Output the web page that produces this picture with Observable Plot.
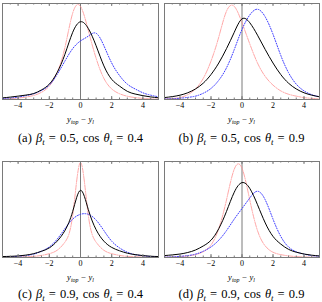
<!DOCTYPE html>
<html><head><meta charset="utf-8">
<script src="https://cdn.jsdelivr.net/npm/d3@7"></script>
<script src="https://cdn.jsdelivr.net/npm/@observablehq/plot@0.6"></script>
<style>
body{margin:0;background:#fff;}
#fig{position:relative;width:322px;height:302px;overflow:hidden;font-family:'Liberation Serif','DejaVu Serif',serif;color:#000;}
.panel{position:absolute;}
.xlab{position:absolute;width:161px;text-align:center;font-size:8.5px;font-style:italic;line-height:1;white-space:nowrap;}
.cap{position:absolute;width:161px;text-align:center;font-size:12.5px;line-height:1;white-space:nowrap;word-spacing:1px;}
sub{font-size:0.7em;vertical-align:-0.3em;line-height:0;}
</style></head>
<body><div id="fig"></div>
<script>
// shared x grid (y_top - y_l)
const xs = [-5,-4.5,-4,-3.5,-3,-2.5,-2,-1.5,-1,-0.5,0,0.5,1,1.5,2,2.5,3,3.5,4,4.5,5];
const majorTicks = [-4,-2,0,2,4];
const tickLabels = ["\u22124","\u22122","0","2","4"];
const minorTicks = [-5,-4.5,-4,-3.5,-3,-2.5,-2,-1.5,-1,-0.5,0,0.5,1,1.5,2,2.5,3,3.5,4,4.5,5];

// panel (a): beta=0.5, cos=0.4
const blackA = [.017,.025,.035,.046,.062,.1,.16,.28,.47,.7,.81,.74,.56,.35,.21,.14,.085,.057,.04,.027,.018];
const redA   = [.004,.008,.015,.025,.042,.075,.14,.28,.54,.9,.97,.72,.43,.22,.11,.06,.034,.02,.012,.007,.004];
const blueA  = [.01,.016,.025,.04,.06,.095,.15,.26,.4,.53,.61,.66,.69,.56,.38,.25,.16,.11,.07,.045,.028];
// panel (b): beta=0.5, cos=0.9
const blackB = [.02,.03,.045,.07,.11,.17,.26,.38,.53,.7,.84,.8,.67,.52,.38,.26,.17,.11,.07,.045,.028];
const redB   = [.005,.01,.02,.05,.11,.22,.4,.65,.92,.97,.8,.58,.38,.24,.15,.09,.055,.035,.02,.012,.007];
const blueB  = [.005,.008,.013,.022,.035,.065,.115,.2,.33,.52,.73,.88,.94,.86,.68,.46,.28,.16,.09,.05,.028];
// panel (c): beta=0.9, cos=0.4
const blackC = [.01,.012,.016,.025,.04,.065,.1,.17,.28,.48,.7,.5,.29,.17,.105,.07,.045,.03,.02,.013,.01];
const redC   = [.002,.003,.005,.008,.012,.022,.04,.075,.16,.44,.99,.44,.16,.075,.04,.022,.012,.008,.005,.003,.002];
const blueC  = [.005,.008,.013,.02,.035,.065,.11,.19,.3,.4,.45,.45,.39,.28,.17,.1,.055,.03,.018,.01,.006];
// panel (d): beta=0.9, cos=0.9
const blackD = [.02,.027,.036,.052,.078,.12,.18,.3,.48,.68,.78,.72,.55,.36,.22,.14,.085,.055,.036,.024,.016];
const redD   = [.003,.005,.009,.016,.03,.06,.13,.3,.6,.92,.93,.6,.28,.12,.055,.03,.017,.01,.006,.004,.002];
const blueD  = [.004,.007,.012,.02,.035,.065,.11,.18,.28,.4,.51,.62,.69,.6,.4,.22,.11,.06,.035,.02,.013];

const letters = ["a","b","c","d"];
const betas = ["0.5","0.5","0.9","0.9"];
const coss = ["0.4","0.9","0.4","0.9"];
const curves = [[blackA,redA,blueA],[blackB,redB,blueB],[blackC,redC,blueC],[blackD,redD,blueD]];

const fig = document.getElementById("fig");
const toRows = v => xs.map((x,i)=>({x, y: v[i]}));
const frameCol = "#7a7a7a";

curves.forEach((cv, p) => {
  const col = p % 2, row = Math.floor(p / 2);
  const left = col * 161, top = row * 158;
  const [blk, red, blu] = cv;
  const chart = Plot.plot({
    width: 161, height: 113,
    marginTop: 3, marginBottom: 14,
    marginLeft: col === 0 ? 2 : 3, marginRight: 3,
    x: {domain: [-5, 5]},
    y: {domain: [0, 1], axis: null},
    style: {background: "transparent", overflow: "visible"},
    marks: [
      Plot.ruleX([0], {stroke: frameCol, strokeWidth: 1}),
      Plot.line(toRows(red), {x: "x", y: "y", stroke: "#ff9090", strokeWidth: 0.8, strokeDasharray: "5,1.2,1.2,1.2", curve: "natural"}),
      Plot.line(toRows(blu), {x: "x", y: "y", stroke: "#3a3aff", strokeWidth: 1, strokeDasharray: "1,1.6", curve: "natural"}),
      Plot.line(toRows(blk), {x: "x", y: "y", stroke: "#000", strokeWidth: 1, curve: "natural"}),
      Plot.ruleX(minorTicks, {stroke: frameCol, insetTop: 94.5}),
      Plot.ruleX(minorTicks, {stroke: frameCol, insetBottom: 94.5}),
      Plot.ruleX(majorTicks, {stroke: frameCol, insetTop: 93}),
      Plot.ruleX(majorTicks, {stroke: frameCol, insetBottom: 93}),
      Plot.frame({stroke: frameCol, strokeWidth: 1}),
      Plot.axisX(majorTicks, {anchor: "bottom", tickSize: 0, tickPadding: 3, fontSize: 8, fontFamily: "Liberation Serif, DejaVu Serif, serif", tickFormat: (d, i) => tickLabels[i], label: null})
    ]
  });
  chart.classList.add("panel");
  chart.style.left = left + "px";
  chart.style.top = top + "px";
  fig.appendChild(chart);

  const xl = document.createElement("div");
  xl.className = "xlab";
  xl.style.left = left + "px";
  xl.style.top = (top + 114.5) + "px";
  xl.innerHTML = "y<sub>top</sub> \u2212 y<sub>l</sub>";
  fig.appendChild(xl);

  const cap = document.createElement("div");
  cap.className = "cap";
  cap.style.left = left + "px";
  cap.style.top = (top + (row === 0 ? 131.5 : 130)) + "px";
  cap.innerHTML = "(" + letters[p] + ") <i>\u03b2<sub>t</sub></i> = " + betas[p] + ", cos <i>\u03b8<sub>t</sub></i> = " + coss[p];
  fig.appendChild(cap);
});
</script></body></html>
